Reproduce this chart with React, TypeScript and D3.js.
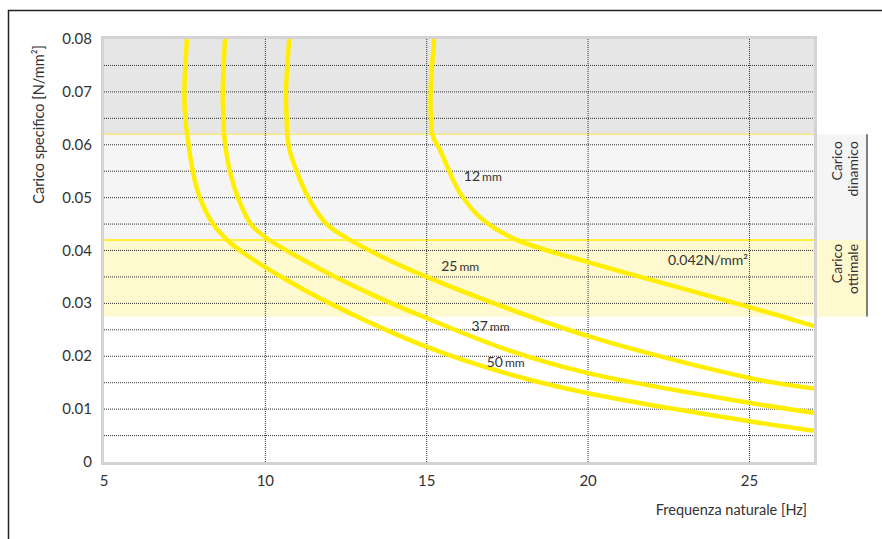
import React from "react";
import * as d3 from "d3";

// ---------- data ----------
const xTicks = [5, 10, 15, 20, 25];
const yTicks = [0, 0.01, 0.02, 0.03, 0.04, 0.05, 0.06, 0.07, 0.08];
const yGrid = [0.005, 0.01, 0.015, 0.02, 0.025, 0.03, 0.035, 0.04, 0.045, 0.05, 0.055, 0.06, 0.065, 0.07, 0.075];
const xGrid = [10, 15, 20, 25];

const seriesNames = ["12", "25", "37", "50"];
const freq12 = [15.23, 15.12, 15.13, 15.18, 15.41, 16.03, 16.74, 17.79, 20.0, 25.0, 27.0];
const load12 = [0.08, 0.07, 0.065, 0.0618, 0.059, 0.0509, 0.0458, 0.042, 0.0378, 0.0293, 0.0257];
const freq25 = [10.74, 10.64, 10.66, 10.68, 10.75, 10.97, 11.33, 11.9, 12.62, 14.17, 15.0, 16.74, 20.0, 25.0, 27.0];
const load25 = [0.08, 0.07, 0.065, 0.062, 0.059, 0.055, 0.05, 0.045, 0.042, 0.0372, 0.035, 0.0308, 0.0238, 0.0159, 0.0139];
const freq37 = [8.75, 8.68, 8.7, 8.72, 8.9, 9.15, 9.55, 10.0, 11.85, 13.55, 15.0, 17.5, 20.0, 25.0, 27.0];
const load37 = [0.08, 0.07, 0.065, 0.062, 0.055, 0.05, 0.045, 0.0425, 0.036, 0.031, 0.0272, 0.0212, 0.0168, 0.0112, 0.0093];
const freq50 = [7.57, 7.49, 7.52, 7.58, 7.75, 7.97, 8.38, 8.85, 9.4, 10.5, 12.0, 14.9, 17.5, 20.0, 25.0, 27.0];
const load50 = [0.08, 0.07, 0.065, 0.062, 0.055, 0.05, 0.045, 0.0418, 0.0392, 0.035, 0.03, 0.022, 0.0167, 0.013, 0.0077, 0.0059];

// label anchor positions (data coords)
const labelFreq = [16.15, 15.45, 16.39, 16.86];
const labelLoad = [0.0532, 0.0362, 0.0248, 0.018];

// bands
const bandDynamic = [0.042, 0.062];
const bandOptimal = [0.0275, 0.042];
const bandTop = [0.062, 0.08];
const refLoad = 0.042;

const FONT = "Lato, 'Open Sans', sans-serif";

export default function App() {
  const L = 104, R = 814, T = 39, B = 462;
  const x = d3.scaleLinear().domain([5, 27]).range([L, R]);
  const y = d3.scaleLinear().domain([0, 0.08]).range([B, T]);

  const series = [
    { f: freq12, l: load12 },
    { f: freq25, l: load25 },
    { f: freq37, l: load37 },
    { f: freq50, l: load50 },
  ];
  const line = d3
    .line<[number, number]>()
    .x((d) => x(d[0]))
    .y((d) => y(d[1]))
    .curve(d3.curveCatmullRom.alpha(0.5));

  const textColor = "#333";

  return (
    <svg
      width={882}
      height={539}
      style={{ position: "absolute", left: 0, top: 0, background: "#fff" }}
      fontFamily={FONT}
    >
      {/* outer frame */}
      <line x1={8} x2={882} y1={10.5} y2={10.5} stroke="#222" strokeWidth={1.5} />
      <line x1={8.5} x2={8.5} y1={10} y2={539} stroke="#222" strokeWidth={1.5} />

      {/* bands */}
      <rect x={L} y={y(bandTop[1])} width={R - L} height={y(bandTop[0]) - y(bandTop[1])} fill="#e6e6e6" />
      <rect x={L} y={y(bandDynamic[1])} width={R - L} height={y(bandDynamic[0]) - y(bandDynamic[1])} fill="#f5f5f5" />
      <rect x={L} y={y(bandOptimal[1])} width={R - L} height={y(bandOptimal[0]) - y(bandOptimal[1])} fill="#fff9cf" />

      {/* side label boxes */}
      <rect x={R} y={y(bandDynamic[1])} width={867 - R} height={y(bandDynamic[0]) - y(bandDynamic[1])} fill="#f5f5f5" />
      <rect x={R} y={y(bandOptimal[1])} width={867 - R} height={y(bandOptimal[0]) - y(bandOptimal[1])} fill="#fff9cf" />
      <line x1={867} x2={867} y1={y(bandDynamic[1])} y2={y(bandOptimal[0])} stroke="#555" strokeWidth={1.5} />

      {/* band boundary lines */}
      <line x1={L} x2={R} y1={y(bandTop[0])} y2={y(bandTop[0])} stroke="#f7e97c" strokeWidth={1.5} />
      <line x1={L} x2={R} y1={y(refLoad)} y2={y(refLoad)} stroke="#ffec00" strokeWidth={1.5} />

      {/* grid */}
      {yGrid.map((v) => (
        <line key={"gy" + v} x1={L} x2={R} y1={y(v)} y2={y(v)} stroke="#333" strokeWidth={1} strokeDasharray="1,1" />
      ))}
      {xGrid.map((v) => (
        <line key={"gx" + v} x1={x(v)} x2={x(v)} y1={T} y2={B} stroke="#333" strokeWidth={1} strokeDasharray="1,1" />
      ))}

      {/* plot border */}
      <rect x={L - 1.5} y={T - 1.5} width={R - L + 3} height={B - T + 3} fill="none" stroke="#d3d3d3" strokeWidth={3} />

      {/* curves */}
      <defs>
        <clipPath id="clip">
          <rect x={L} y={T} width={R - L} height={B - T} />
        </clipPath>
      </defs>
      <g clipPath="url(#clip)">
        {series.map((s, i) => (
          <path
            key={i}
            d={line(s.f.map((f, j) => [f, s.l[j]] as [number, number])) || ""}
            fill="none"
            stroke="#ffee00"
            strokeWidth={4.5}
          />
        ))}
      </g>

      {/* curve labels */}
      {seriesNames.map((n, i) => (
        <text key={"lab" + n} x={x(labelFreq[i])} y={y(labelLoad[i])} fill={textColor} fontSize={14}>
          {n}
          <tspan fontSize={12} dx={2}>mm</tspan>
        </text>
      ))}
      <text x={748} y={265} textAnchor="end" fill={textColor} fontSize={14}>
        0.042N/mm²
      </text>

      {/* y ticks */}
      {yTicks.map((v) => (
        <text key={"ty" + v} x={92} y={y(v) + 5} textAnchor="end" fill={textColor} fontSize={15}>
          {v === 0 ? "0" : d3.format(".2f")(v)}
        </text>
      ))}
      {/* x ticks */}
      {xTicks.map((v) => (
        <text key={"tx" + v} x={x(v)} y={486} textAnchor="middle" fill={textColor} fontSize={15}>
          {v}
        </text>
      ))}

      {/* axis titles */}
      <text x={807} y={515} textAnchor="end" fill={textColor} fontSize={14.5}>
        Frequenza naturale [Hz]
      </text>
      <text transform="translate(44,45) rotate(-90)" textAnchor="end" fill={textColor} fontSize={14.5}>
        Carico specifico [N/mm²]
      </text>

      {/* side labels */}
      {[
        { t: y(bandDynamic[1]) + 7, a: "Carico", b: "dinamico" },
        { t: y(bandOptimal[1]) + 4, a: "Carico", b: "ottimale" },
      ].map((d, i) => (
        <g key={"side" + i}>
          <text transform={`translate(842,${d.t}) rotate(-90)`} textAnchor="end" fill={textColor} fontSize={14}>
            {d.a}
          </text>
          <text transform={`translate(858,${d.t}) rotate(-90)`} textAnchor="end" fill={textColor} fontSize={14}>
            {d.b}
          </text>
        </g>
      ))}
    </svg>
  );
}
